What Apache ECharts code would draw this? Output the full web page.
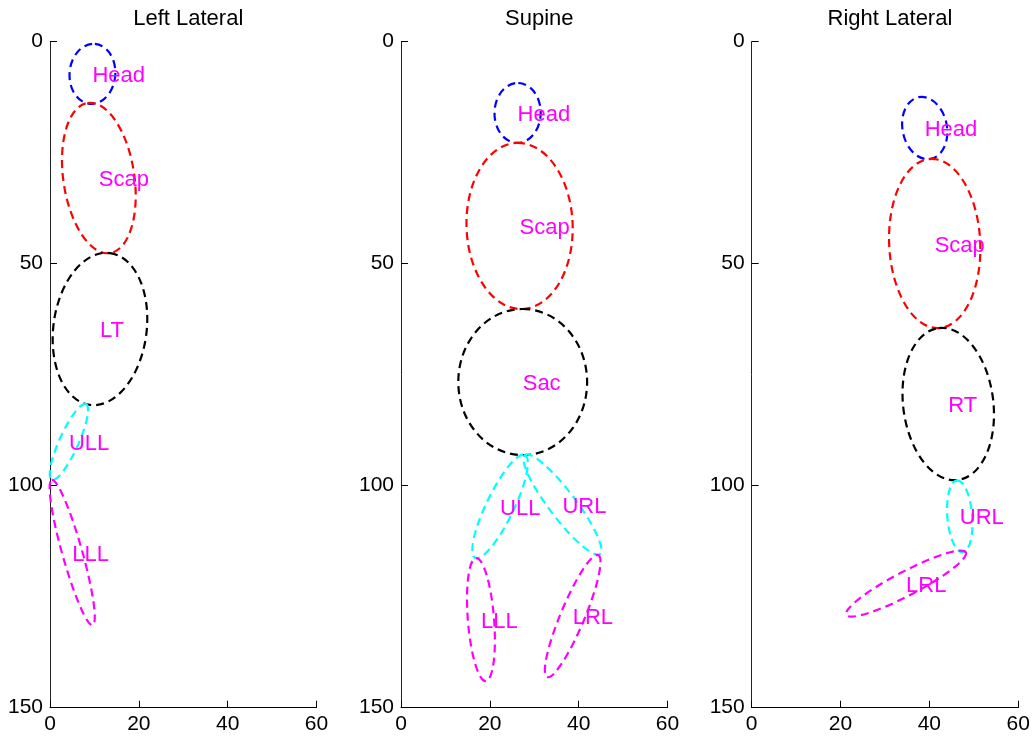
<!DOCTYPE html>
<html>
<head>
<meta charset="utf-8">
<script src="https://cdn.jsdelivr.net/npm/echarts@6/dist/echarts.min.js"></script>
<style>
html, body { margin: 0; padding: 0; background: #fff; }
#chart { width: 1034px; height: 740px; }
</style>
</head>
<body>
<div id="chart"></div>
<script>
// Panel titles
const titles = ['Left Lateral', 'Supine', 'Right Lateral'];
// Axis ticks
const xTicks = [0, 20, 40, 60];
const yTicks = [0, 50, 100, 150];

// Body segments: [label, x1, y1, x2, y2, width] -- joint endpoints and ellipse minor axis (data units)
const leftLateral = [
  ['Head', 10.1, 0.5, 9.0, 14.0, 10.3],
  ['Scap', 8.5, 13.8, 13.5, 47.6, 16.0],
  ['LT', 13.5, 47.6, 9.0, 81.8, 21.0],
  ['ULL', 8.1, 81.6, 0.4, 98.7, 4.3],
  ['LLL', 0.4, 98.7, 9.6, 131.4, 4.5]
];
const supine = [
  ['Head', 26.4, 9.3, 26.1, 22.8, 10.4],
  ['Scap', 26.1, 22.8, 27.3, 60.2, 23.9],
  ['Sac', 27.3, 60.2, 27.5, 93.1, 29.0],
  ['ULL', 27.9, 93.1, 16.7, 116.3, 6.2],
  ['URL', 27.9, 93.1, 44.8, 115.4, 6.0],
  ['LLL', 16.9, 116.3, 19.1, 144.0, 5.9],
  ['LRL', 44.4, 115.6, 32.9, 143.1, 5.4]
];
const rightLateral = [
  ['Head', 37.6, 12.5, 40.3, 26.4, 10.0],
  ['Scap', 40.3, 26.4, 42.1, 64.5, 20.5],
  ['RT', 42.1, 64.5, 46.4, 98.7, 20.3],
  ['URL', 46.2, 98.8, 47.5, 115.0, 5.6],
  ['LRL', 48.2, 115.0, 21.3, 129.1, 5.4]
];

const panels = [leftLateral, supine, rightLateral];

const FONT = 'Liberation Sans, Arial, Helvetica, sans-serif';
const colorFor = function (label) {
  if (label === 'Head') return '#0000ff';
  if (label === 'Scap') return '#ff0000';
  if (label === 'LT' || label === 'RT' || label === 'Sac') return '#000000';
  if (label === 'ULL' || label === 'URL') return '#00ffff';
  return '#ff00ff';
};

const gridLefts = [50, 401, 751.7];
const gridWidth = 266.5;
const gridTop = 41.7;
const gridHeight = 666;

const grids = [], xAxes = [], yAxes = [], series = [], titleOpts = [];

panels.forEach(function (parts, i) {
  grids.push({ left: gridLefts[i], top: gridTop, width: gridWidth, height: gridHeight, containLabel: false });
  titleOpts.push({
    text: titles[i], left: gridLefts[i] + gridWidth / 2, top: 3, textAlign: 'center',
    textStyle: { fontFamily: FONT, fontSize: 22, fontWeight: 'normal', color: '#000' }
  });
  xAxes.push({
    gridIndex: i, type: 'value', min: xTicks[0], max: xTicks[xTicks.length - 1], interval: xTicks[1] - xTicks[0],
    axisLine: { show: true, onZero: false, lineStyle: { color: '#000', width: 1 } },
    axisTick: { show: true, inside: true, length: 7, lineStyle: { color: '#000' } },
    axisLabel: { fontFamily: FONT, fontSize: 21, color: '#000', margin: 6 },
    splitLine: { show: false }
  });
  yAxes.push({
    gridIndex: i, type: 'value', inverse: true, min: yTicks[0], max: yTicks[yTicks.length - 1], interval: yTicks[1] - yTicks[0],
    axisLine: { show: true, onZero: false, lineStyle: { color: '#222', width: 1 } },
    axisTick: { show: true, inside: true, length: 7, lineStyle: { color: '#000' } },
    axisLabel: { fontFamily: FONT, fontSize: 21, color: '#000', margin: 7 },
    splitLine: { show: false }
  });
  series.push({
    type: 'custom',
    xAxisIndex: i, yAxisIndex: i,
    clip: false,
    encode: { x: [0, 2], y: [1, 3] },
    data: parts.map(function (d) { return { name: d[0], value: d.slice(1) }; }),
    renderItem: function (params, api) {
      const p1 = api.coord([api.value(0), api.value(1)]);
      const p2 = api.coord([api.value(2), api.value(3)]);
      const wpx = Math.abs(api.size([api.value(4), 0])[0]);
      const cx = (p1[0] + p2[0]) / 2;
      const cy = (p1[1] + p2[1]) / 2;
      const dx = p2[0] - p1[0], dy = p2[1] - p1[1];
      const len = Math.sqrt(dx * dx + dy * dy);
      const ang = Math.atan2(dy, dx);
      const label = parts[params.dataIndex][0];
      return {
        type: 'group',
        children: [
          {
            type: 'ellipse',
            x: cx, y: cy, rotation: -ang,
            shape: { cx: 0, cy: 0, rx: len / 2, ry: wpx / 2 },
            style: { fill: 'none', stroke: colorFor(label), lineWidth: 2.2, lineDash: [8, 5] }
          },
          {
            type: 'text',
            x: cx, y: cy + 2, z2: 10,
            style: { text: label, fill: '#ff00ff', font: '22px ' + FONT, textAlign: 'left', textVerticalAlign: 'middle' }
          }
        ]
      };
    }
  });
});

const chart = echarts.init(document.getElementById('chart'), null, { renderer: 'canvas' });
chart.setOption({
  animation: false,
  backgroundColor: '#ffffff',
  title: titleOpts,
  grid: grids,
  xAxis: xAxes,
  yAxis: yAxes,
  series: series
});
</script>
</body>
</html>
